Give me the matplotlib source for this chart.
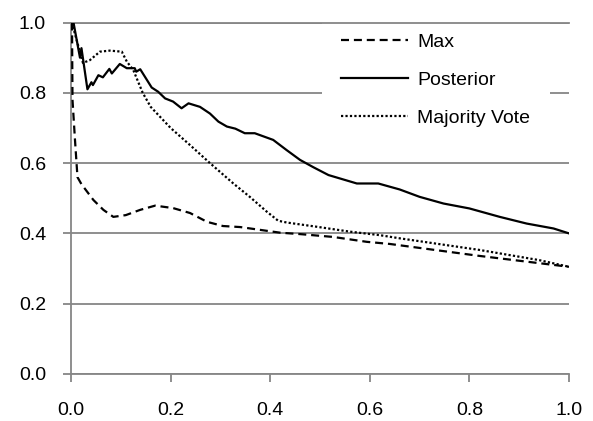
import matplotlib.pyplot as plt

# values
max_x = [0.002, 0.003, 0.008, 0.013, 0.021, 0.045, 0.065, 0.085, 0.11, 0.139, 0.169, 0.205,
         0.239, 0.273, 0.305, 0.34, 0.38, 0.42, 0.46, 0.526, 0.594, 0.64, 0.82, 1.0]
max_y = [1.0, 0.78, 0.666, 0.56, 0.54, 0.495, 0.467, 0.447, 0.452, 0.467, 0.479, 0.472,
         0.458, 0.433, 0.421, 0.418, 0.41, 0.402, 0.398, 0.39, 0.376, 0.37, 0.336, 0.305]

post_x = [0.005, 0.018, 0.021, 0.033, 0.041, 0.044, 0.055, 0.064, 0.077, 0.082, 0.098, 0.112,
          0.128, 0.131, 0.139, 0.162, 0.175, 0.189, 0.205, 0.222, 0.236, 0.259, 0.279, 0.296,
          0.313, 0.33, 0.349, 0.369, 0.406, 0.433, 0.46, 0.487, 0.517, 0.574, 0.617, 0.66,
          0.70, 0.748, 0.80, 0.861, 0.915, 0.969, 1.0]
post_y = [1.0, 0.90, 0.927, 0.81, 0.83, 0.822, 0.85, 0.844, 0.868, 0.855, 0.882, 0.87,
          0.87, 0.86, 0.867, 0.815, 0.803, 0.784, 0.775, 0.756, 0.77, 0.76, 0.741, 0.718,
          0.704, 0.698, 0.685, 0.685, 0.666, 0.637, 0.609, 0.588, 0.566, 0.542, 0.542, 0.525,
          0.504, 0.485, 0.471, 0.447, 0.428, 0.414, 0.40]

mv_x = [0.004, 0.024, 0.038, 0.058, 0.078, 0.102, 0.112, 0.125, 0.139, 0.144, 0.16, 0.2,
        0.24, 0.279, 0.326, 0.359, 0.393, 0.416, 0.433, 0.493, 0.56, 0.62, 0.66, 0.82, 0.94, 1.0]
mv_y = [0.988, 0.885, 0.893, 0.917, 0.92, 0.917, 0.889, 0.865, 0.817, 0.80, 0.76, 0.70,
        0.65, 0.60, 0.542, 0.504, 0.462, 0.436, 0.431, 0.419, 0.405, 0.395, 0.386, 0.353, 0.324, 0.305]

ticks = [0.0, 0.2, 0.4, 0.6, 0.8, 1.0]
tick_labels = ['0.0', '0.2', '0.4', '0.6', '0.8', '1.0']

plt.rcParams['font.family'] = ['Liberation Sans', 'DejaVu Sans']
grey = '#868686'
fs = 14

fig = plt.figure(figsize=(5.93, 4.21), dpi=100)
ax = fig.add_axes([71/593, 47/421, 498/593, 351.5/421])

ax.plot(max_x, max_y, color='black', lw=1.6, ls=(0, (3.6, 2.2)), label='Max', zorder=3)
ax.plot(post_x, post_y, color='black', lw=1.6, ls='-', label='Posterior', zorder=3)
ax.plot(mv_x, mv_y, color='black', lw=1.6, ls=(0, (1, 1)), label='Majority Vote', zorder=3)

ax.set_xlim(0, 1)
ax.set_ylim(0, 1)
ax.set_xticks(ticks)
ax.set_xticklabels(tick_labels)
ax.set_yticks(ticks)
ax.set_yticklabels(tick_labels)
ax.yaxis.grid(True, color=grey, lw=1.3)
ax.set_axisbelow(True)

ax.spines['right'].set_visible(False)
for side in ['left', 'bottom', 'top']:
    ax.spines[side].set_color(grey)
    ax.spines[side].set_linewidth(1.3)
ax.tick_params(axis='both', colors=grey, width=1.3, length=6, labelsize=fs, labelcolor='black')
ax.tick_params(axis='y', pad=12)
ax.tick_params(axis='x', pad=14)

leg = ax.legend(loc='upper left', bbox_to_anchor=(0.504, 1.025), borderaxespad=0,
                frameon=True, fancybox=False, framealpha=1, facecolor='white',
                edgecolor='none', fontsize=fs, handlelength=3.4, handletextpad=0.5,
                labelspacing=1.05, borderpad=1.0)
leg.set_zorder(1)

fig.savefig('out.png', dpi=100)
